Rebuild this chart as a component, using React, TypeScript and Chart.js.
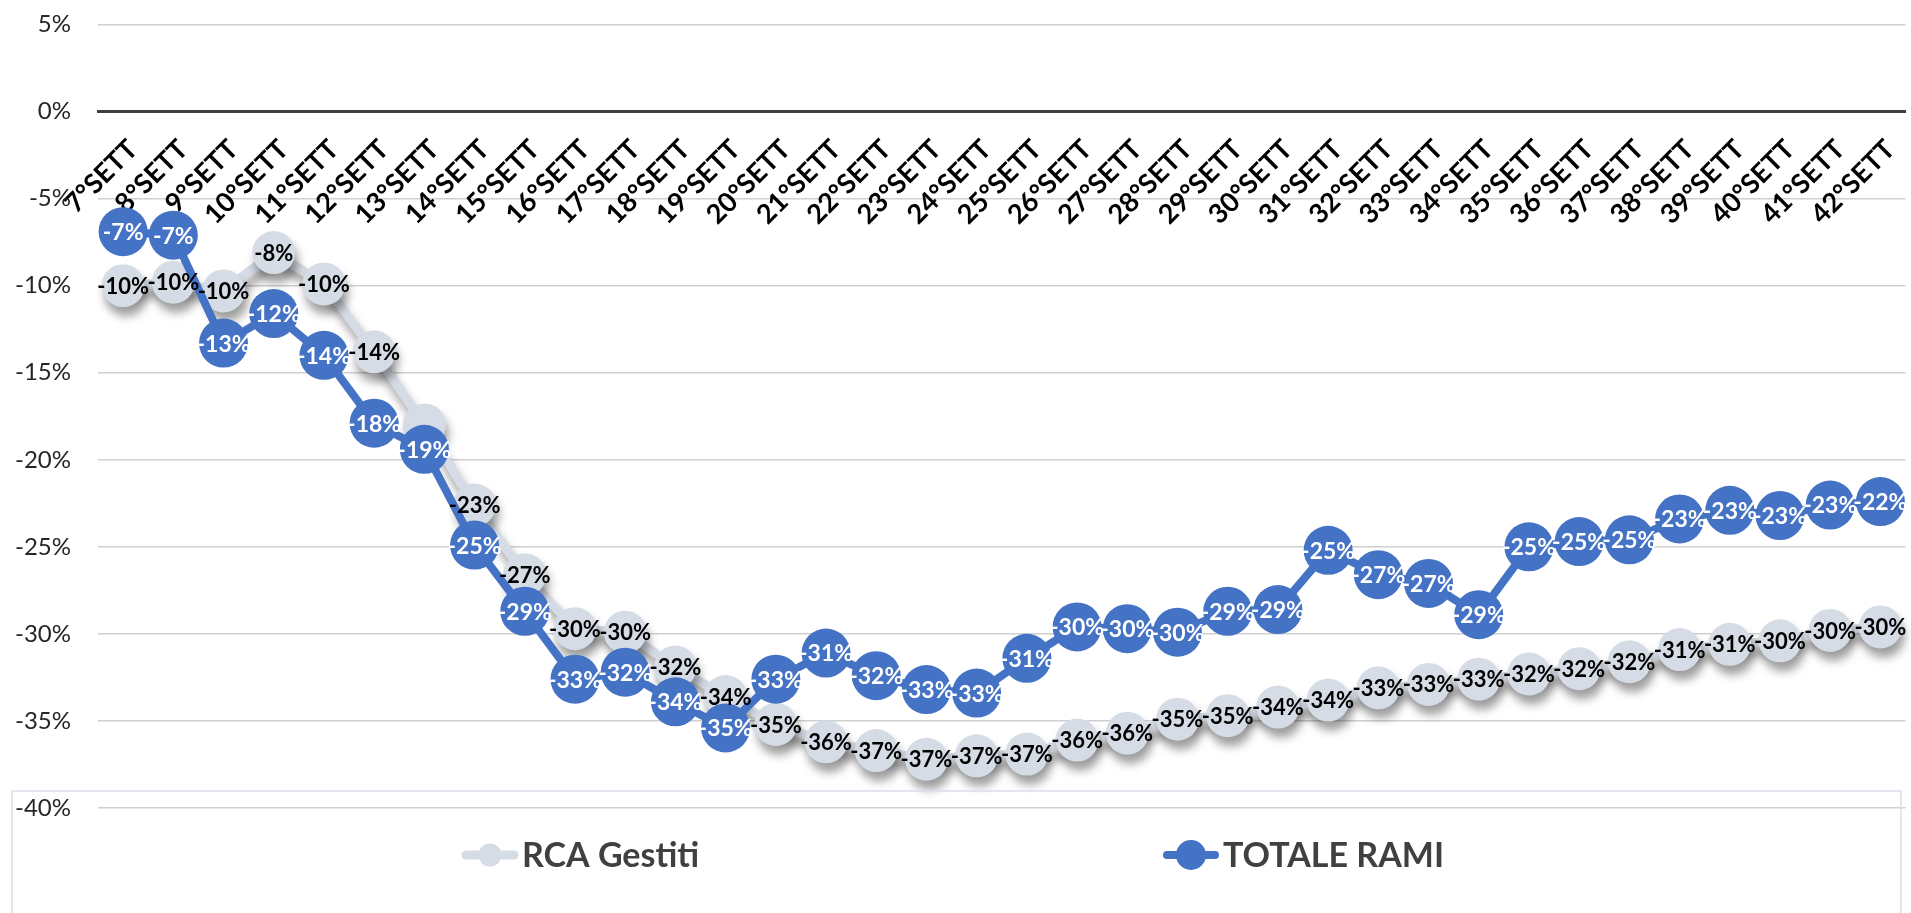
import React, { useEffect, useRef } from "react";
import { Chart, registerables } from "chart.js";

Chart.register(...registerables);

const weeks: string[] = [
  "7°SETT", "8°SETT", "9°SETT", "10°SETT", "11°SETT", "12°SETT", "13°SETT", "14°SETT", "15°SETT",
  "16°SETT", "17°SETT", "18°SETT", "19°SETT", "20°SETT", "21°SETT", "22°SETT", "23°SETT", "24°SETT",
  "25°SETT", "26°SETT", "27°SETT", "28°SETT", "29°SETT", "30°SETT", "31°SETT", "32°SETT", "33°SETT",
  "34°SETT", "35°SETT", "36°SETT", "37°SETT", "38°SETT", "39°SETT", "40°SETT", "41°SETT", "42°SETT",
];

const rcaGestiti: number[] = [
  -10.0, -9.8, -10.3, -8.1, -9.9, -13.8, -18.0, -22.6, -26.6, -29.7, -29.9, -31.9,
  -33.6, -35.2, -36.2, -36.7, -37.2, -37.0, -36.9, -36.1, -35.7, -34.9, -34.7, -34.2,
  -33.8, -33.1, -32.9, -32.6, -32.3, -32.0, -31.6, -30.9, -30.6, -30.4, -29.8, -29.6,
];

const totaleRami: number[] = [
  -6.9, -7.1, -13.3, -11.6, -14.0, -17.9, -19.4, -24.9, -28.7, -32.6, -32.2, -33.9,
  -35.4, -32.6, -31.1, -32.4, -33.2, -33.4, -31.4, -29.6, -29.7, -29.9, -28.7, -28.6,
  -25.2, -26.6, -27.1, -28.9, -25.0, -24.7, -24.6, -23.4, -22.9, -23.2, -22.6, -22.4,
];

// data labels not shown in the source (indexes into rcaGestiti)
const rcaHiddenLabels: number[] = [6];

const seriesNames = ["RCA Gestiti", "TOTALE RAMI"];
const GREY = "#D6DCE5";
const BLUE = "#4472C4";

const labelPlugin = {
  id: "shadowAndLabels",
  beforeDatasetDraw(chart: any, args: any) {
    const ds = chart.data.datasets[args.index];
    if (ds.shadow) {
      const ctx = chart.ctx;
      ctx.save();
      ctx.shadowColor = "rgba(0,0,0,0.38)";
      ctx.shadowBlur = 10;
      ctx.shadowOffsetX = 3;
      ctx.shadowOffsetY = 9;
    }
  },
  afterDatasetDraw(chart: any, args: any) {
    const ds = chart.data.datasets[args.index];
    if (ds.shadow) chart.ctx.restore();
  },
  afterDatasetsDraw(chart: any) {
    const ctx = chart.ctx;
    chart.data.datasets.forEach((ds: any, di: number) => {
      const meta = chart.getDatasetMeta(di);
      ctx.save();
      ctx.font = ds.labelFont;
      ctx.fillStyle = ds.labelColor;
      ctx.textAlign = "center";
      ctx.textBaseline = "middle";
      const hidden: number[] = ds.hiddenLabels || [];
      meta.data.forEach((pt: any, i: number) => {
        if (hidden.includes(i)) return;
        ctx.fillText(Math.round(ds.data[i]) + "%", pt.x, pt.y + 1);
      });
      ctx.restore();
    });
  },
};

const legendPlugin = {
  id: "customLegend",
  afterDraw(chart: any) {
    const ctx = chart.ctx;
    ctx.save();
    ctx.strokeStyle = "#D9DFEA";
    ctx.lineWidth = 1.5;
    ctx.strokeRect(12, 791, 1889, 200);
    const items = [
      { name: seriesNames[0], color: GREY, cx: 490, lw: 9, r: 11.5 },
      { name: seriesNames[1], color: BLUE, cx: 1191, lw: 8, r: 15 },
    ];
    const cy = 855;
    items.forEach((it) => {
      ctx.strokeStyle = it.color;
      ctx.lineWidth = it.lw;
      ctx.lineCap = "round";
      ctx.beginPath();
      ctx.moveTo(it.cx - 24, cy);
      ctx.lineTo(it.cx + 24, cy);
      ctx.stroke();
      ctx.fillStyle = it.color;
      ctx.beginPath();
      ctx.arc(it.cx, cy, it.r, 0, Math.PI * 2);
      ctx.fill();
      ctx.fillStyle = "#404040";
      ctx.font = "bold 34px Lato";
      ctx.textAlign = "left";
      ctx.textBaseline = "middle";
      ctx.fillText(it.name, it.cx + 32, cy + 1);
    });
    ctx.restore();
  },
};

export default function App() {
  const canvasRef = useRef<HTMLCanvasElement | null>(null);

  useEffect(() => {
    if (!canvasRef.current) return;
    const chart = new Chart(canvasRef.current, {
      type: "line",
      data: {
        labels: weeks,
        datasets: [
          {
            label: seriesNames[0],
            data: rcaGestiti,
            borderColor: GREY,
            backgroundColor: GREY,
            borderWidth: 9,
            pointRadius: 21.5,
            pointHoverRadius: 21.5,
            pointBackgroundColor: GREY,
            pointBorderColor: GREY,
            pointBorderWidth: 0,
            tension: 0,
            order: 2,
            clip: false,
            shadow: true,
            hiddenLabels: rcaHiddenLabels,
            labelFont: "bold 22px Lato",
            labelColor: "#000000",
          } as any,
          {
            label: seriesNames[1],
            data: totaleRami,
            borderColor: BLUE,
            backgroundColor: BLUE,
            borderWidth: 8,
            pointRadius: 24.5,
            pointHoverRadius: 24.5,
            pointBackgroundColor: BLUE,
            pointBorderColor: BLUE,
            pointBorderWidth: 0,
            tension: 0,
            order: 1,
            clip: false,
            shadow: false,
            labelFont: "bold 23px Lato",
            labelColor: "#FFFFFF",
          } as any,
        ],
      },
      options: {
        responsive: false,
        animation: false,
        layout: { padding: { left: 0, right: 12, top: 23, bottom: 105 } },
        plugins: {
          legend: { display: false },
          tooltip: { enabled: false },
        },
        scales: {
          x: {
            type: "category",
            position: { y: 0 } as any,
            offset: true,
            grid: { display: false, drawTicks: false },
            border: { display: true, color: "#404040", width: 3 },
            ticks: {
              autoSkip: false,
              minRotation: 45,
              maxRotation: 45,
              padding: 22,
              labelOffset: 10,
              color: "#000000",
              font: { family: "Lato", weight: "bold", size: 27 },
            },
            afterFit: (s: any) => {
              s.paddingLeft = 0;
              s.paddingRight = 0;
              s.paddingTop = 0;
              s.paddingBottom = 0;
            },
          },
          y: {
            min: -40,
            max: 5,
            ticks: {
              stepSize: 5,
              padding: 27,
              color: "#262626",
              font: { family: "Lato", size: 24 },
              callback: (v: any) => v + "%",
            },
            grid: { color: "#D0D0D0", lineWidth: 1.5, drawTicks: false },
            border: { display: false },
            afterFit: (s: any) => {
              s.width = 98;
              s.paddingTop = 10;
              s.paddingBottom = 10;
            },
          },
        },
      },
      plugins: [labelPlugin, legendPlugin],
    });
    return () => chart.destroy();
  }, []);

  return (
    <div
      style={{
        position: "fixed",
        left: 0,
        top: 0,
        width: 1911,
        height: 913,
        overflow: "hidden",
        background: "#ffffff",
      }}
    >
      <canvas ref={canvasRef} width={1930} height={913} style={{ display: "block" }} />
    </div>
  );
}
